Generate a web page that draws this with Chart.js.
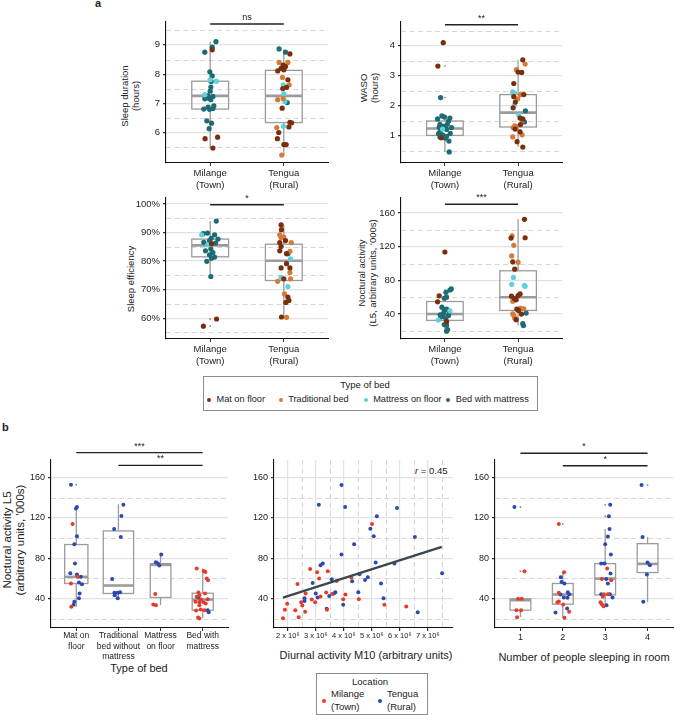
<!DOCTYPE html>
<html>
<head>
<meta charset="utf-8">
<title>Sleep and activity by location and bed type</title>
<script src="https://cdn.jsdelivr.net/npm/chart.js@4.4.1/dist/chart.umd.min.js"></script>
<style>
  body { margin: 0; background: #fff; }
  #page { position: relative; width: 675px; height: 716px; overflow: hidden; font-family: "Liberation Sans", Arial, sans-serif; color: #222; }
  #page canvas { position: absolute; }
  .txt { position: absolute; white-space: nowrap; }
  .ytitle { position: absolute; transform: translate(-50%, -50%) rotate(-90deg); text-align: center; white-space: nowrap; }
  .xtitle { position: absolute; transform: translateX(-50%); white-space: nowrap; font-size: 11px; }
  .legend { position: absolute; border: 1px solid #8c8c8c; box-sizing: border-box; }
  .dot { position: absolute; width: 4px; height: 4px; margin: -2px 0 0 -2px; border-radius: 50%; }
</style>
</head>
<body>
<div id="page">
  <div class="txt" style="left:95px;top:-3px;font-weight:bold;font-size:11px">a</div>
  <div class="txt" style="left:2px;top:421px;font-weight:bold;font-size:11px">b</div>

  <div class="ytitle" style="left:130px;top:96px;font-size:9.5px;line-height:11px">Sleep duration<br>(hours)</div>
  <div class="ytitle" style="left:369px;top:88px;font-size:9.5px;line-height:11px">WASO<br>(hours)</div>
  <div class="ytitle" style="left:130px;top:279px;font-size:9.5px;line-height:11px">Sleep efficiency</div>
  <div class="ytitle" style="left:367px;top:273px;font-size:9.5px;line-height:11px">Noctural activity<br>(L5, arbitrary units, '000s)</div>
  <div class="ytitle" style="left:13px;top:540px;font-size:11.5px;line-height:12.5px">Noctural activity L5<br>(arbitrary units, '000s)</div>

  <div class="xtitle" style="left:139px;top:662px">Type of bed</div>
  <div class="xtitle" style="left:366px;top:649px">Diurnal activity M10 (arbitrary units)</div>
  <div class="xtitle" style="left:584px;top:651px">Number of people sleeping in room</div>
  <div class="txt" style="left:415px;top:465px;font-size:9.5px"><i>r</i> = 0.45</div>

  <div class="legend" style="left:203px;top:376px;width:335px;height:35px"></div>
  <div class="txt" style="left:365px;top:379px;font-size:9.5px;transform:translateX(-50%)">Type of bed</div>
  <div id="bedKeys"></div>

  <div class="legend" style="left:316px;top:673px;width:112px;height:42px"></div>
  <div class="txt" style="left:370px;top:676px;font-size:9.5px;transform:translateX(-50%)">Location</div>
  <div id="siteKeys"></div>
</div>
<script>
// ---------- data ----------
const siteLabels = [['Milange', '(Town)'], ['Tengua', '(Rural)']]
const siteNames = [['Milange', '(Town)'], ['Tengua', '(Rural)']]
const bedTypes = ['Mat on floor', 'Traditional bed', 'Mattress on floor', 'Bed with mattress']
const bedTickLabels = [['Mat on', 'floor'], ['Traditional', 'bed without', 'mattress'], ['Mattress', 'on floor'], ['Bed with', 'mattress']]
const roomTickLabels = ['1', '2', '3', '4']
const m10Ticks = [2, 3, 4, 5, 6, 7]

// [x (jittered category), value, bed type index]
const durTown = [[1.078,9.11,3],[1.028,8.92,3],[1.028,8.83,0],[0.927,8.75,3],[0.995,8.08,3],[1.028,7.94,3],[1.0,7.81,2],[1.083,7.76,2],[1.014,7.75,3],[1.009,7.56,3],[1.0,7.42,3],[0.927,7.30,2],[0.968,7.27,3],[1.037,7.24,3],[0.982,7.18,3],[0.927,7.16,3],[1.009,7.13,3],[1.05,6.92,3],[0.972,6.88,3],[0.913,6.81,3],[0.991,6.80,3],[1.037,6.83,3],[0.954,6.41,3],[1.018,6.33,3],[0.986,6.14,3],[0.931,5.80,0],[1.101,5.85,0],[1.037,5.48,0]]
const durRural = [[1.936,8.86,3],[2.023,8.75,3],[2.083,8.69,0],[1.936,8.40,1],[2.055,8.40,1],[1.991,8.31,0],[2.023,8.26,0],[1.963,8.20,0],[2.0,8.15,0],[1.917,8.11,0],[1.982,7.89,1],[2.055,7.81,0],[1.991,7.64,2],[2.073,7.64,1],[2.037,7.55,0],[1.986,7.51,0],[2.0,7.33,2],[1.991,7.17,1],[1.917,7.13,1],[2.014,7.07,2],[2.046,7.03,3],[1.977,6.84,0],[2.083,6.36,0],[2.106,6.34,0],[1.904,6.18,1],[1.995,6.22,2],[2.069,6.20,0],[1.931,6.01,0],[1.913,5.80,0],[2.0,5.60,0],[2.032,5.60,0],[1.972,5.24,1]]
const wasoTown = [[0.977,4.10,0],[0.904,3.32,0],[0.941,2.27,3],[0.959,1.66,3],[0.995,1.62,3],[0.9,1.56,3],[1.068,1.59,3],[1.05,1.49,3],[0.932,1.38,3],[1.032,1.38,3],[0.982,1.31,3],[0.922,1.28,3],[1.091,1.27,3],[0.968,1.22,2],[1.023,1.21,3],[1.073,1.08,3],[0.913,1.07,3],[0.968,1.03,3],[0.95,0.93,0],[0.932,0.96,3],[1.023,0.98,3],[1.005,0.92,3],[1.055,0.82,3],[0.932,1.12,3],[1.059,0.46,3]]
const wasoRural = [[2.064,3.53,0],[2.096,3.39,1],[1.977,3.20,1],[2.0,3.12,0],[2.05,3.11,0],[1.941,2.74,0],[1.927,2.46,2],[1.95,2.42,2],[2.032,2.37,1],[2.078,2.37,0],[1.941,2.30,0],[1.995,2.23,1],[1.963,2.12,0],[1.95,2.02,2],[1.932,1.93,0],[2.1,1.83,3],[2.009,1.69,2],[2.027,1.59,0],[2.064,1.56,0],[2.055,1.51,1],[2.087,1.46,3],[2.032,1.37,0],[1.954,1.33,1],[1.932,1.27,1],[1.959,1.22,0],[1.973,1.31,1],[2.027,1.13,0],[2.055,1.03,1],[1.986,0.80,0],[2.064,0.62,0],[1.927,0.96,1]]
const effTown = [[1.083,94.0,3],[0.885,89.2,2],[0.904,89.6,3],[0.963,89.8,3],[1.06,89.2,3],[1.014,88.0,3],[1.106,87.7,3],[0.913,86.6,3],[0.991,87.1,3],[1.018,86.1,0],[0.968,85.7,2],[1.073,86.3,3],[0.936,83.6,3],[1.009,84.2,3],[1.037,83.0,3],[0.991,82.2,3],[1.06,81.4,3],[1.018,81.0,3],[0.954,79.9,3],[1.009,74.6,3],[1.087,59.7,0],[0.908,57.2,0]]
const effRural = [[1.963,92.7,0],[1.968,91.0,0],[1.945,89.2,1],[2.0,88.4,1],[1.963,88.3,1],[2.023,87.2,0],[1.945,86.5,0],[2.101,86.5,1],[1.963,85.1,0],[1.945,83.6,0],[2.083,83.4,1],[2.037,82.6,0],[2.055,82.6,3],[2.092,80.8,2],[2.037,79.1,0],[1.963,77.6,0],[2.083,77.6,0],[2.083,76.0,1],[1.963,74.3,2],[2.0,73.8,0],[2.092,73.8,1],[1.917,72.9,1],[2.055,71.1,2],[2.009,68.5,1],[2.055,67.4,0],[2.069,66.2,0],[2.028,65.5,0],[1.968,60.4,0],[2.037,60.3,1]]
const l5Town = [[1.0,113.7,0],[0.922,61.6,0],[1.068,68.6,3],[1.087,69.8,3],[1.014,65.9,3],[0.991,58.8,3],[1.023,60.0,3],[0.9,54.5,0],[0.959,48.2,3],[0.991,45.1,3],[1.023,45.9,3],[1.068,43.9,2],[1.059,43.1,3],[0.982,41.2,3],[0.936,39.2,3],[1.05,38.4,3],[0.977,37.3,3],[0.909,32.9,2],[1.023,31.0,0],[0.991,27.5,3],[1.023,26.7,3],[1.037,21.6,3],[1.023,19.6,3],[0.945,36.5,3],[1.014,34.1,3]]
const l5Rural = [[2.087,152.5,0],[2.096,130.6,0],[1.918,132.9,1],[1.904,130.2,0],[1.941,121.6,1],[1.913,109.0,1],[1.927,102.0,0],[2.0,101.6,1],[1.954,93.3,0],[1.936,83.5,2],[1.913,75.3,2],[2.087,74.1,2],[2.096,72.9,2],[1.909,61.2,0],[2.027,63.9,0],[2.0,62.0,0],[1.95,58.4,0],[1.927,55.3,1],[1.973,56.9,0],[1.982,45.9,0],[2.032,47.1,1],[2.078,46.3,1],[2.005,44.3,0],[1.927,40.4,1],[2.046,40.0,0],[2.11,41.2,3],[1.954,35.3,1],[1.973,33.3,0],[2.064,28.6,3],[2.073,26.3,3],[1.941,38.4,1]]

// box summaries [lower whisker, q1, median, q3, upper whisker] and outliers
const durBoxes = [[5.48, 6.81, 7.26, 7.76, 9.11], [5.24, 6.35, 7.26, 8.13, 8.83]]
const durOut = [[], []]
const wasoBoxes = [[0.46, 1.01, 1.24, 1.49, 1.68], [0.62, 1.29, 1.77, 2.37, 3.53]]
const wasoOut = [[4.10, 3.32, 2.27], []]
const effBoxes = [[74.6, 81.5, 85.5, 87.7, 94.0], [60.3, 73.2, 80.1, 85.9, 92.7]]
const effOut = [[59.7, 57.2], []]
const l5Boxes = [[19.6, 32.5, 40.0, 54.9, 69.8], [26.3, 44.3, 60.0, 91.4, 152.5]]
const l5Out = [[113.7], []]

// panel b: [x (jittered category), L5, location index 0 = Milange, 1 = Tengua]
const bedL5 = [
  [0.874,153.0,1],[1.016,130.9,1],[0.992,129.3,1],[0.913,114.0,0],[1.016,101.8,1],[0.953,93.9,1],[0.969,74.7,1],[0.858,65.1,1],[1.016,63.8,1],[1.031,61.5,0],[1.11,61.5,1],[0.874,54.9,0],[1.063,55.9,1],[1.134,54.2,1],[1.079,45.0,1],[1.063,40.3,1],[0.953,36.7,1],[0.937,33.7,1],[0.882,31.7,0],
  [2.118,133.2,1],[2.071,122.0,1],[1.898,109.1,1],[2.055,101.2,1],[1.85,59.5,1],[1.906,45.6,1],[1.984,45.6,1],[2.039,46.3,1],[1.913,43.3,1],[1.984,40.3,1],
  [3.016,83.6,1],[2.89,76.0,1],[2.937,74.7,1],[2.969,72.7,1],[2.874,44.6,0],[2.827,34.0,0],[2.89,33.4,0],
  [3.858,69.8,0],[4.024,67.4,0],[4.063,66.4,0],[4.094,59.8,0],[4.126,58.2,0],[3.898,45.9,0],[4.055,45.0,0],[3.921,43.3,0],[3.858,41.7,0],[3.898,41.0,1],[3.961,39.0,0],[4.118,39.3,0],[3.827,36.7,0],[3.921,36.4,0],[4.016,36.4,0],[4.071,35.0,0],[3.921,33.4,0],[3.953,29.1,0],[3.843,28.1,0],[4.039,28.4,0],[4.118,28.4,1],[4.142,26.4,1],[3.89,21.2,0],[3.921,20.2,0]
]
const bedBoxes = [[31.7, 54.9, 61.5, 93.6, 130.9], [40.3, 45.0, 52.9, 107.1, 133.6], [33.4, 41.0, 73.4, 74.7, 83.6], [20.2, 28.4, 39.0, 45.3, 69.8]]
const bedOut = [[153.0], [], [], []]

// M10 in millions, L5
const m10Town = [[5.01,114],[2.80,69.4],[3.05,66.1],[3.43,67.1],[3.12,59.8],[2.35,54.5],[3.75,57.5],[4.27,60.8],[2.64,45],[3.37,46],[3.58,44.6],[4.06,44],[3.17,42],[3.98,39.3],[4.54,39.3],[2.86,39],[2.48,36.4],[2.98,36.4],[2.52,33],[5.45,33.7],[6.23,32],[1.98,34.7],[1.90,28.8],[2.27,28.4],[2.62,26.8],[3.40,28.8],[2.39,21.5],[1.83,20.5]]
const m10Rural = [[3.92,152.7],[3.11,133.2],[4.05,130.9],[5.90,129.9],[5.18,121.7],[6.54,101.2],[5.07,101.8],[4.95,109.4],[4.37,93.9],[3.92,83.6],[5.14,75.7],[5.81,74.7],[3.17,73.1],[3.25,74.7],[7.51,65.1],[3.57,59.2],[4.86,61.2],[4.76,58.5],[4.30,57.2],[5.33,54.9],[2.89,55.5],[4.56,64.1],[3.70,46.3],[3.65,45],[3.00,45],[4.52,46.3],[3.07,41],[3.48,42.6],[2.60,40.3],[2.60,37.4],[5.42,40.3],[3.39,29.8],[3.98,33.7],[6.64,26.4]]
const m10FitX = [1.83, 7.5]
const m10FitY = [40.9, 91.3]

const roomL5 = [
  [0.858,130.9,1],[1.094,67.1,0],[0.945,39.7,0],[1.031,39.7,0],[0.906,28.4,0],[1.016,28.4,0],[0.921,21.5,0],
  [1.906,114.0,0],[2.031,66.1,0],[1.953,61.2,1],[1.969,56.5,1],[2.039,54.9,1],[1.906,45.6,0],[2.118,46.3,1],[1.945,44.0,1],[2.15,44.3,1],[1.874,36.4,0],[1.906,37.0,0],[2.11,40.7,1],[2.008,34.0,0],[1.827,26.1,1],[2.102,30.0,1],[2.15,26.8,0],[2.039,20.8,0],[2.024,41.0,1],
  [3.118,133.2,1],[3.087,121.7,1],[3.102,109.1,1],[3.063,101.5,1],[3.0,93.9,1],[3.134,83.6,1],[2.906,74.7,1],[2.984,74.7,1],[3.047,69.8,0],[3.126,64.8,1],[2.921,59.5,0],[3.024,59.5,1],[3.142,58.2,0],[3.063,54.9,1],[2.906,44.3,1],[2.969,44.3,0],[3.063,44.3,0],[3.11,44.3,1],[2.945,41.7,0],[3.173,41.0,1],[2.89,36.4,0],[2.921,34.4,0],[2.961,32.4,0],[3.031,33.4,1],
  [3.858,152.7,1],[3.882,101.2,1],[4.0,75.7,1],[4.055,73.1,1],[3.984,63.8,1],[3.898,36.7,1]
]
const roomBoxes = [[21.5, 28.4, 38.3, 39.7, 39.7], [20.8, 34.4, 44.0, 54.9, 66.1], [31.7, 43.6, 59.8, 74.7, 109.1], [36.7, 65.8, 74.4, 94.5, 101.2]]
const roomOut = [[130.9, 67.1], [114.0], [133.2, 121.7], [152.7]]

// significance brackets [from, to, level, label]
const sigDur = [[1, 2, 9.71, 'ns']]
const sigWaso = [[1, 2, 4.70, '**']]
const sigEff = [[1, 2, 99.75, '*']]
const sigL5 = [[1, 2, 170.3, '***']]
const sigBed = [[1, 4, 184.9, '***'], [2, 4, 172.3, '**']]
const sigRoom = [[1, 4, 184.3, '*'], [2, 4, 171.9, '*']]

// ---------- styles ----------
Chart.defaults.font.family = '"Liberation Sans", Arial, sans-serif'
Chart.defaults.color = '#222'
const BED_COLORS = ['#7b2e0b', '#d57b3a', '#5fd0dc', '#1d6b74']
const SITE_COLORS = ['#e63b2c', '#2b49b0']
const BOX_COLOR = '#9b9b9b'
const page = document.getElementById('page')

function seg(ctx, x1, y1, x2, y2) {
    ctx.beginPath()
    ctx.moveTo(x1, y1)
    ctx.lineTo(x2, y2)
    ctx.stroke()
}

// boxes, dashed minor grid and significance bars
function makeExtras(o) {
    return {
        id: 'extras',
        beforeDatasetsDraw(chart) {
            const {ctx, chartArea: a, scales: {x, y}} = chart
            ctx.save()
            ctx.strokeStyle = '#d6d6d6'
            ctx.lineWidth = 1.1
            ctx.setLineDash([5, 3.5])
            ;(o.yMinor || []).forEach(v => {
                const p = Math.round(y.getPixelForValue(v)) + 0.5
                seg(ctx, a.left, p, a.right, p)
            })
            ;(o.xMinor || []).forEach(v => {
                const p = Math.round(x.getPixelForValue(v)) + 0.5
                seg(ctx, p, a.top, p, a.bottom)
            })
            ctx.setLineDash([])
            ;(o.boxes || []).forEach((st, i) => {
                const cx = x.getPixelForValue(i + 1)
                const hw = x.getPixelForValue(i + 1 + o.boxHalf[i]) - cx
                const [lo, q1, md, q3, hi] = st.map(v => y.getPixelForValue(v))
                ctx.strokeStyle = BOX_COLOR
                ctx.lineWidth = 1.3
                seg(ctx, cx, q3, cx, hi)
                seg(ctx, cx, q1, cx, lo)
                ctx.strokeRect(cx - hw, q3, 2 * hw, q1 - q3)
                ctx.lineWidth = 2.6
                seg(ctx, cx - hw, md, cx + hw, md)
                ctx.fillStyle = '#8a8a8a'
                ;(o.outliers[i] || []).forEach(v => {
                    ctx.beginPath()
                    ctx.arc(cx, y.getPixelForValue(v), 0.9, 0, Math.PI * 2)
                    ctx.fill()
                })
            })
            ctx.restore()
        },
        afterDatasetsDraw(chart) {
            const {ctx, scales: {x, y}} = chart
            ctx.save()
            ;(o.sig || []).forEach(([from, to, level, label]) => {
                const x1 = x.getPixelForValue(from), x2 = x.getPixelForValue(to)
                const py = y.getPixelForValue(level)
                ctx.strokeStyle = '#222'
                ctx.lineWidth = 1.4
                seg(ctx, x1, py, x2, py)
                ctx.fillStyle = '#222'
                ctx.font = '9px "Liberation Sans", Arial, sans-serif'
                ctx.textAlign = 'center'
                ctx.textBaseline = 'alphabetic'
                ctx.fillText(label, (x1 + x2) / 2, py - 4)
            })
            ctx.restore()
        }
    }
}

function makePanel(g, o) {
    const PL = 45, PT = 30, PR = 6, PB = 48
    const W = g.r - g.l + PL + PR, H = g.b - g.t + PT + PB
    const cv = document.createElement('canvas')
    cv.width = W
    cv.height = H
    Object.assign(cv.style, {left: (g.l - PL) + 'px', top: (g.t - PT) + 'px', width: W + 'px', height: H + 'px'})
    page.appendChild(cv)
    const tickGrid = {drawOnChartArea: false, tickColor: '#333', tickLength: 3}
    const lineGrid = {color: '#e2e2e2', lineWidth: 1.2, tickColor: '#333', tickLength: 3}
    return new Chart(cv, {
        type: 'scatter',
        data: {datasets: o.datasets},
        options: {
            responsive: false, animation: false, events: [], devicePixelRatio: 1,
            layout: {padding: {top: PT, right: PR, left: 0, bottom: 0}},
            plugins: {legend: {display: false}, tooltip: {enabled: false}},
            scales: {
                x: {
                    type: 'linear', min: o.xMin, max: o.xMax,
                    afterFit: s => { s.height = PB },
                    afterBuildTicks: s => { s.ticks = o.xTicks.map(v => ({value: v})) },
                    ticks: {callback: o.xLabel, font: {size: o.xFont}, color: '#222', padding: o.xPad, maxRotation: 0, autoSkip: false},
                    grid: o.xGrid ? lineGrid : tickGrid,
                    border: {color: '#111', width: 1.1}
                },
                y: {
                    type: 'linear', min: o.yMin, max: o.yMax,
                    afterFit: s => { s.width = PL },
                    afterBuildTicks: s => { s.ticks = o.yTicks.map(v => ({value: v})) },
                    ticks: {callback: o.yLabel || (v => v), font: {size: o.yFont}, color: '#222', padding: 3, autoSkip: false},
                    grid: lineGrid,
                    border: {color: '#111', width: 1.1}
                }
            }
        },
        plugins: [makeExtras(o)]
    })
}

function bedSets(town, rural) {
    const all = town.concat(rural)
    return BED_COLORS.map((c, k) => ({
        data: all.filter(p => p[2] === k).map(p => ({x: p[0], y: p[1]})),
        backgroundColor: c, borderWidth: 0, pointRadius: 2.6
    }))
}

function siteSets(points) {
    return SITE_COLORS.map((c, k) => ({
        data: points.filter(p => p[2] === k).map(p => ({x: p[0], y: p[1]})),
        backgroundColor: c, borderWidth: 0, pointRadius: 2
    }))
}

const siteTick = v => siteLabels[v - 1]
const aCommon = {xMin: 0.4, xMax: 2.6, xTicks: [1, 2], xLabel: siteTick, xFont: 9.5, xPad: 2, yFont: 9.5, boxHalf: [0.25, 0.25]}

makePanel({l: 166, r: 328, t: 22, b: 163}, Object.assign({}, aCommon, {
    yMin: 4.97, yMax: 9.78, yTicks: [6, 7, 8, 9], yMinor: [5.5, 6.5, 7.5, 8.5, 9.5],
    datasets: bedSets(durTown, durRural), boxes: durBoxes, outliers: durOut, sig: sigDur
}))
makePanel({l: 401, r: 562, t: 22, b: 163}, Object.assign({}, aCommon, {
    yMin: 0.09, yMax: 4.79, yTicks: [1, 2, 3, 4], yMinor: [0.5, 1.5, 2.5, 3.5, 4.5],
    datasets: bedSets(wasoTown, wasoRural), boxes: wasoBoxes, outliers: wasoOut, sig: sigWaso
}))
makePanel({l: 166, r: 328, t: 198, b: 339}, Object.assign({}, aCommon, {
    yMin: 52.7, yMax: 102.1, yTicks: [60, 70, 80, 90, 100], yMinor: [55, 65, 75, 85, 95], yLabel: v => v + '%',
    datasets: bedSets(effTown, effRural), boxes: effBoxes, outliers: effOut, sig: sigEff
}))
makePanel({l: 401, r: 562, t: 198, b: 339}, Object.assign({}, aCommon, {
    yMin: 10.4, yMax: 177.8, yTicks: [40, 80, 120, 160], yMinor: [20, 60, 100, 140],
    datasets: bedSets(l5Town, l5Rural), boxes: l5Boxes, outliers: l5Out, sig: sigL5
}))

const bCommon = {yMin: 10.7, yMax: 177.6, yTicks: [40, 80, 120, 160], yMinor: [20, 60, 100, 140], yFont: 9}

makePanel({l: 51, r: 228, t: 460, b: 628}, Object.assign({}, bCommon, {
    xMin: 0.4, xMax: 4.6, xTicks: [1, 2, 3, 4], xLabel: v => bedTickLabels[v - 1], xFont: 8.5, xPad: 0,
    datasets: siteSets(bedL5), boxes: bedBoxes, outliers: bedOut, boxHalf: [0.276, 0.36, 0.245, 0.25], sig: sigBed
}))

const fitLine = {
    data: m10FitX.map((v, i) => ({x: v, y: m10FitY[i]})),
    showLine: true, borderColor: '#3c474e', borderWidth: 2.4, pointRadius: 0
}
makePanel({l: 274, r: 453, t: 460, b: 628}, Object.assign({}, bCommon, {
    xMin: 1.51, xMax: 7.9, xTicks: m10Ticks, xLabel: v => v + ' x 10⁶', xFont: 7.5, xPad: 0, xGrid: true,
    xMinor: [2.5, 3.5, 4.5, 5.5, 6.5, 7.5],
    datasets: [fitLine].concat(siteSets(m10Town.map(p => [p[0], p[1], 0]).concat(m10Rural.map(p => [p[0], p[1], 1])))),
    outliers: []
}))

makePanel({l: 495, r: 673, t: 460, b: 628}, Object.assign({}, bCommon, {
    xMin: 0.4, xMax: 4.6, xTicks: [1, 2, 3, 4], xLabel: v => roomTickLabels[v - 1], xFont: 9, xPad: 1,
    datasets: siteSets(roomL5), boxes: roomBoxes, outliers: roomOut, boxHalf: [0.245, 0.245, 0.245, 0.245], sig: sigRoom
}))

// ---------- legends ----------
const bedKeyX = [209, 280.7, 365.7, 448.3]
const bedKeys = document.getElementById('bedKeys')
bedTypes.forEach((name, k) => {
    bedKeys.insertAdjacentHTML('beforeend',
        `<div class="dot" style="left:${bedKeyX[k]}px;top:400px;background:${BED_COLORS[k]}"></div>` +
        `<div class="txt" style="left:${bedKeyX[k] + 7.5}px;top:394px;font-size:9.2px">${name}</div>`)
})
const siteKeyX = [324, 380]
const siteKeys = document.getElementById('siteKeys')
siteNames.forEach((lines, k) => {
    siteKeys.insertAdjacentHTML('beforeend',
        `<div class="dot" style="left:${siteKeyX[k]}px;top:701px;background:${SITE_COLORS[k]}"></div>` +
        `<div class="txt" style="left:${siteKeyX[k] + 7}px;top:688px;font-size:9.5px;line-height:12.5px">${lines.join('<br>')}</div>`)
})
</script>
</body>
</html>
